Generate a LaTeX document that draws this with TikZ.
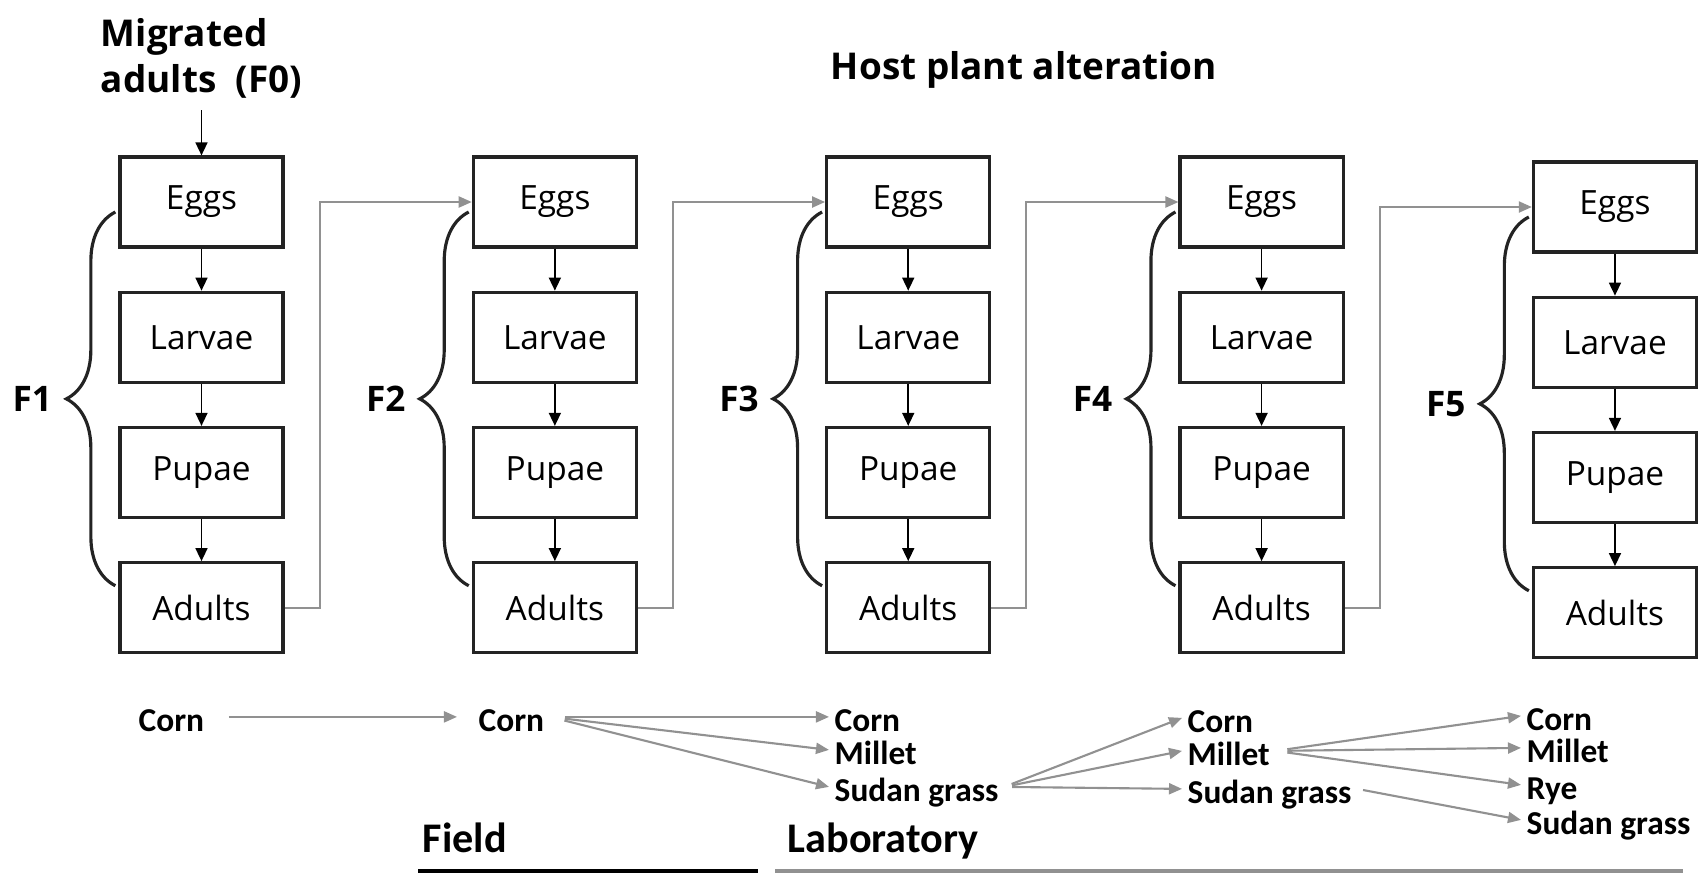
\documentclass[tikz,border=0pt]{standalone}
\usepackage{fontspec}
\setmainfont{Open Sans}
\newfontfamily\cropfont{Carlito}
\usetikzlibrary{arrows.meta,positioning,decorations.pathreplacing}
\definecolor{linkgray}{RGB}{145,145,145}
\definecolor{boxline}{RGB}{35,35,35}

\begin{document}
\begin{tikzpicture}[
  x=0.01cm, y=-0.01cm,
  node distance=0.42cm and 1.87cm,
  box/.style={draw=boxline, line width=0.9pt, minimum width=1.63cm, minimum height=0.9cm, font=\fontsize{9.5}{11}\selectfont},
  arrow/.style={-{Triangle[length=1.3mm,width=1.2mm]}, line width=0.45pt, black},
  link/.style={-{Triangle[length=1.3mm,width=1.1mm]}, line width=0.6pt, draw=linkgray},
  gen/.style={decorate, decoration={brace, amplitude=0.49cm}, line width=0.9pt, draw=boxline},
  genlabel/.style={font=\bfseries\fontsize{10}{12}\selectfont},
  head/.style={font=\bfseries\fontsize{10.5}{13}\selectfont},
  crop/.style={font=\cropfont\bfseries\fontsize{9.5}{11}\selectfont, inner sep=0.05cm, text height=1.5ex, text depth=0pt, anchor=base west},
  site/.style={font=\cropfont\bfseries\fontsize{12}{14}\selectfont, anchor=base west, inner sep=0}
]
\useasboundingbox (0,0) rectangle (1705,875);

\node[box] (e1) at (201.5,202) {Eggs};
\node[box, below=of e1] (l1) {Larvae};
\node[box, below=of l1] (p1) {Pupae};
\node[box, below=of p1] (a1) {Adults};

\node[box, right=of e1] (e2) {Eggs};
\node[box, below=of e2] (l2) {Larvae};
\node[box, below=of l2] (p2) {Pupae};
\node[box, below=of p2] (a2) {Adults};

\node[box, right=of e2] (e3) {Eggs};
\node[box, below=of e3] (l3) {Larvae};
\node[box, below=of l3] (p3) {Pupae};
\node[box, below=of p3] (a3) {Adults};

\node[box, right=of e3] (e4) {Eggs};
\node[box, below=of e4] (l4) {Larvae};
\node[box, below=of l4] (p4) {Pupae};
\node[box, below=of p4] (a4) {Adults};

\node[box, right=of e4, yshift=-0.05cm] (e5) {Eggs};
\node[box, below=of e5] (l5) {Larvae};
\node[box, below=of l5] (p5) {Pupae};
\node[box, below=of p5] (a5) {Adults};

\node[head, align=left, above=0.45cm of e1] (mig) {Migrated\\adults\ \ (F0)};
\node[head] (title) at (1024,70) {Host plant alteration};

\draw[arrow] (mig) -- (e1);
\draw[arrow] (e1) -- (l1);
\draw[arrow] (l1) -- (p1);
\draw[arrow] (p1) -- (a1);
\draw[arrow] (e2) -- (l2);
\draw[arrow] (l2) -- (p2);
\draw[arrow] (p2) -- (a2);
\draw[arrow] (e3) -- (l3);
\draw[arrow] (l3) -- (p3);
\draw[arrow] (p3) -- (a3);
\draw[arrow] (e4) -- (l4);
\draw[arrow] (l4) -- (p4);
\draw[arrow] (p4) -- (a4);
\draw[arrow] (e5) -- (l5);
\draw[arrow] (l5) -- (p5);
\draw[arrow] (p5) -- (a5);

\draw[link] (a1.east) -- ++(35,0) |- (e2.west);
\draw[link] (a2.east) -- ++(35,0) |- (e3.west);
\draw[link] (a3.east) -- ++(35,0) |- (e4.west);
\draw[link] (a4.east) -- ++(35,0) |- (e5.west);

\draw[gen] ([shift={(-3,-22)}]a1.west) -- node[genlabel, left=0.5cm] {F1} ([shift={(-3,10)}]e1.west);
\draw[gen] ([shift={(-3,-22)}]a2.west) -- node[genlabel, left=0.5cm] {F2} ([shift={(-3,10)}]e2.west);
\draw[gen] ([shift={(-3,-22)}]a3.west) -- node[genlabel, left=0.5cm] {F3} ([shift={(-3,10)}]e3.west);
\draw[gen] ([shift={(-3,-22)}]a4.west) -- node[genlabel, left=0.5cm] {F4} ([shift={(-3,10)}]e4.west);
\draw[gen] ([shift={(-3,-22)}]a5.west) -- node[genlabel, left=0.5cm] {F5} ([shift={(-3,10)}]e5.west);

\node[crop] (corn0) at (133,731) {Corn};
\node[crop] (corn1) at (473,731) {Corn};
\node[crop] (corn2) at (829,731) {Corn};
\node[crop] (millet2) at (829,764) {Millet};
\node[crop] (sudan2) at (829,801) {Sudan grass};
\node[crop] (corn3) at (1182,732) {Corn};
\node[crop] (millet3) at (1182,765) {Millet};
\node[crop] (sudan3) at (1182,803) {Sudan grass};
\node[crop] (corn4) at (1521,730) {Corn};
\node[crop] (millet4) at (1521,762) {Millet};
\node[crop] (rye4) at (1521,799) {Rye};
\node[crop] (sudan4) at (1521,834) {Sudan grass};

\draw[link, shorten <=0.19cm, shorten >=0.16cm] (corn0.east) -- (corn1.west);
\draw[link, shorten <=0.15cm] (corn1.east) -- (corn2.west);
\draw[link, shorten <=0.15cm] (corn1.east) -- (millet2.west);
\draw[link, shorten <=0.15cm] (corn1.east) -- (sudan2.west);
\draw[link, shorten <=0.08cm] (sudan2.east) -- (corn3.west);
\draw[link, shorten <=0.08cm] (sudan2.east) -- (millet3.west);
\draw[link, shorten <=0.08cm] (sudan2.east) -- (sudan3.west);
\draw[link, shorten <=0.12cm] (millet3.east) -- (corn4.west);
\draw[link, shorten <=0.12cm] (millet3.east) -- (millet4.west);
\draw[link, shorten <=0.12cm] (millet3.east) -- (rye4.west);
\draw[link, shorten <=0.06cm] (sudan3.east) -- (sudan4.west);

\node[site] (field) at (422,852) {Field};
\node[site] (lab) at (787,852) {Laboratory};
\draw[line width=1pt, black] (418,871) -- (758,871);
\draw[line width=1pt, linkgray] (775,871) -- (1683,871);
\end{tikzpicture}
\end{document}
